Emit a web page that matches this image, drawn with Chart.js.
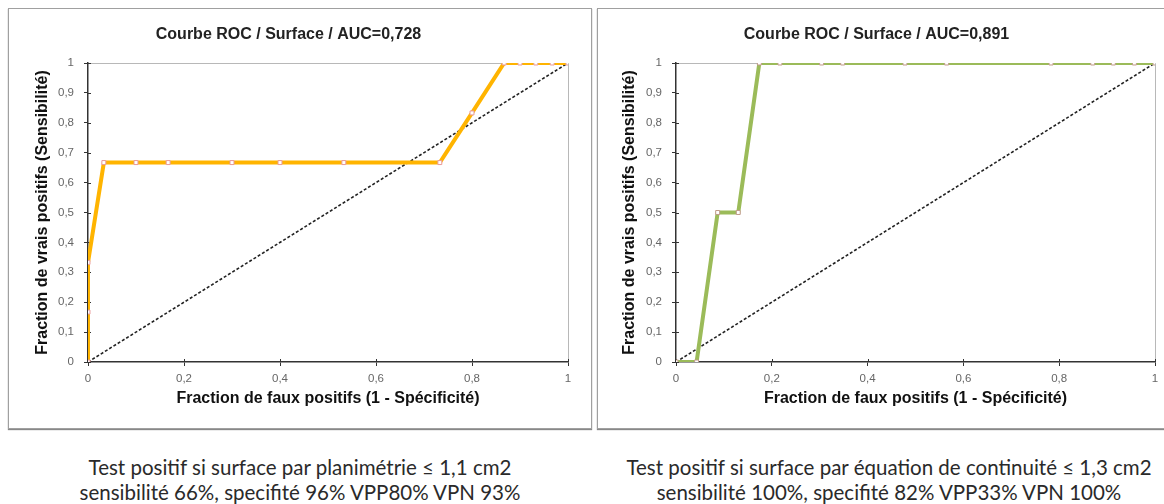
<!DOCTYPE html>
<html>
<head>
<meta charset="utf-8">
<script src="https://cdn.jsdelivr.net/npm/chart.js@4"></script>
<style>
  body { margin: 0; background: #fff; width: 1164px; height: 504px; position: relative; overflow: hidden; }
  .box { position: absolute; top: 8px; height: 419px; border: 1px solid #a0a0a0; box-shadow: 0 1px 1px #888; background: #fff; }
  .box canvas { position: absolute; left: 0; top: 0; }
  .caption { position: absolute; font-family: Lato, "Liberation Sans", sans-serif; font-size: 20.5px; line-height: 25px; color: #2a2a2a; text-align: center; white-space: nowrap; }
</style>
</head>
<body>
<div class="box" id="box1" style="left:8px; width:582px;"><canvas id="roc1"></canvas></div>
<div class="box" id="box2" style="left:597px; width:570px;"><canvas id="roc2"></canvas></div>
<div class="caption" style="left:0px; width:600px; top:455px;">Test positif si surface par planimétrie ≤ 1,1 cm2<br>sensibilité 66%, specifité 96% VPP80% VPN 93%</div>
<div class="caption" style="left:600px; width:578px; top:455px;">Test positif si surface par équation de continuité ≤ 1,3 cm2<br>sensibilité 100%, specifité 82% VPP33% VPN 100%</div>

<script>
// courbe 1 : planimétrie
const fpr1 = [0, 0, 0, 0.033, 0.1, 0.167, 0.3, 0.4, 0.533, 0.733, 0.8, 0.867, 0.9, 0.933, 0.967, 1]
const tpr1 = [0, 0.167, 0.333, 0.667, 0.667, 0.667, 0.667, 0.667, 0.667, 0.667, 0.833, 1, 1, 1, 1, 1]
const title1 = "Courbe ROC / Surface / AUC=0,728"

// courbe 2 : équation de continuité
const fpr2 = [0, 0.043, 0.087, 0.13, 0.174, 0.217, 0.304, 0.348, 0.478, 0.565, 0.783, 0.87, 0.913, 0.957, 1]
const tpr2 = [0, 0, 0.5, 0.5, 1, 1, 1, 1, 1, 1, 1, 1, 1, 1, 1]
const title2 = "Courbe ROC / Surface / AUC=0,891"

// diagonale de référence
const diagX = [0, 1]
const diagY = [0, 1]

const xTitle = "Fraction de faux positifs (1 - Spécificité)"
const yTitle = "Fraction de vrais positifs (Sensibilité)"

function toPoints(xs, ys) {
    return xs.map((x, i) => ({x: x, y: ys[i]}))
}

function frNumber(v) {
    return (Math.round(v * 10) / 10).toString().replace(".", ",")
}

// bordure grise haut/droite + graduations qui traversent l'axe (style Excel)
const excelFrame = {
    id: "excelFrame",
    beforeDatasetsDraw(chart) {
        const ctx = chart.ctx
        const a = chart.chartArea
        ctx.save()
        ctx.strokeStyle = "#b8b8b8"
        ctx.lineWidth = 1
        ctx.beginPath()
        ctx.moveTo(a.left, a.top + 0.5)
        ctx.lineTo(a.right + 0.5, a.top + 0.5)
        ctx.lineTo(a.right + 0.5, a.bottom)
        ctx.stroke()
        ctx.strokeStyle = "#333"
        ctx.beginPath()
        chart.scales.y.ticks.forEach(t => {
            const py = Math.round(chart.scales.y.getPixelForValue(t.value)) + 0.5
            ctx.moveTo(a.left, py)
            ctx.lineTo(a.left + 3, py)
        })
        chart.scales.x.ticks.forEach(t => {
            const px = Math.round(chart.scales.x.getPixelForValue(t.value)) + 0.5
            ctx.moveTo(px, a.bottom)
            ctx.lineTo(px, a.bottom - 3)
        })
        ctx.stroke()
        ctx.restore()
    }
}

function drawRoc(canvasId, boxId, title, xs, ys, color, markerColor, yAxisWidth, rightPad, yTitlePad) {
    const box = document.getElementById(boxId)
    const canvas = document.getElementById(canvasId)
    canvas.width = box.clientWidth
    canvas.height = box.clientHeight
    canvas.style.width = box.clientWidth + "px"
    canvas.style.height = box.clientHeight + "px"

    const chartData = {
        datasets: [{
            label: "roc",
            data: toPoints(xs, ys),
            borderColor: color,
            borderWidth: 4,
            pointStyle: "rect",
            pointRadius: 2.8,
            pointBackgroundColor: "#fff",
            pointBorderColor: markerColor,
            pointBorderWidth: 1,
            tension: 0
        }, {
            label: "diag",
            data: toPoints(diagX, diagY),
            borderColor: "#222",
            borderWidth: 1.6,
            borderDash: [3, 2],
            pointRadius: 0
        }]
    }

    const chartConfig = {
        type: "line",
        data: chartData,
        options: {
            responsive: false,
            animation: false,
            layout: {padding: {left: 0, right: rightPad, top: 0, bottom: 16}},
            plugins: {
                legend: {display: false},
                tooltip: {enabled: false},
                title: {
                    display: true,
                    text: title,
                    color: "#222",
                    font: {family: "Liberation Sans", size: 16, weight: "bold"},
                    padding: {top: 16.4, bottom: 18.4}
                }
            },
            scales: {
                x: {
                    type: "linear",
                    min: 0,
                    max: 1,
                    afterFit: s => { s.height = 50 },
                    ticks: {stepSize: 0.2, color: "#666", font: {family: "Liberation Sans", size: 11.5}, padding: 6,
                        callback: v => frNumber(v)},
                    grid: {drawOnChartArea: false, color: "#333", tickLength: 4},
                    border: {color: "#333", width: 1.5},
                    title: {display: true, text: xTitle, color: "#111",
                        font: {family: "Liberation Sans", size: 16, weight: "bold"}, padding: {top: 0, bottom: 3.4}}
                },
                y: {
                    min: 0,
                    max: 1,
                    afterFit: s => { s.width = yAxisWidth },
                    ticks: {stepSize: 0.1, color: "#666", font: {family: "Liberation Sans", size: 11.5}, padding: 10,
                        callback: v => frNumber(v)},
                    grid: {drawOnChartArea: false, color: "#333", tickLength: 4},
                    border: {color: "#333", width: 1.5},
                    title: {display: true, text: yTitle, color: "#111",
                        font: {family: "Liberation Sans", size: 16, weight: "bold"}, padding: {top: yTitlePad, bottom: 0}}
                }
            }
        },
        plugins: [excelFrame]
    }

    new Chart(canvas.getContext("2d"), chartConfig)
}

drawRoc("roc1", "box1", title1, fpr1, tpr1, "#ffb400", "#e89a9a", 79, 23, 24.4)
drawRoc("roc2", "box2", title2, fpr2, tpr2, "#9bbb59", "#c09a8a", 78, 13, 22.4)
</script>
</body>
</html>
